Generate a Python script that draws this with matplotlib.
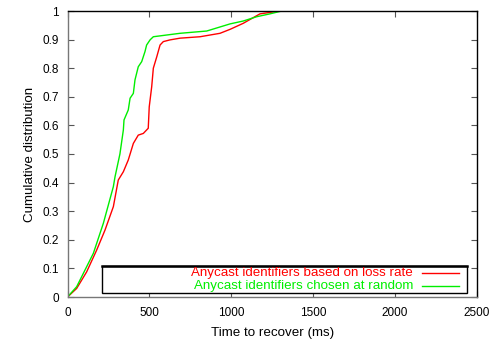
import matplotlib
matplotlib.use("Agg")
import matplotlib.pyplot as plt
from matplotlib.patches import Rectangle

plt.rcParams["font.family"] = ["Liberation Sans", "DejaVu Sans"]

# recovery time (ms) and cumulative fraction for each identifier scheme
loss_ms = [0, 56, 117, 178, 229, 280, 310, 341, 371, 402, 432, 463, 493, 499,
           514, 524, 545, 565, 585, 626, 687, 809, 931, 993, 1073, 1175, 1297, 2155]
loss_cdf = [0, 0.03, 0.088, 0.164, 0.234, 0.316, 0.409, 0.438, 0.479, 0.537,
            0.566, 0.572, 0.59, 0.665, 0.735, 0.80, 0.84, 0.881, 0.893, 0.899,
            0.905, 0.91, 0.922, 0.936, 0.957, 0.99, 1.0, 1.0]

rand_ms = [0, 56, 158, 219, 280, 290, 320, 341, 345, 371, 382, 402, 412, 432,
           453, 473, 483, 504, 524, 605, 687, 850, 993, 1073, 1155, 1236, 1308, 2438]
rand_cdf = [0, 0.036, 0.153, 0.258, 0.386, 0.42, 0.50, 0.584, 0.619, 0.654,
            0.695, 0.712, 0.759, 0.805, 0.823, 0.858, 0.881, 0.899, 0.91, 0.916,
            0.922, 0.93, 0.955, 0.965, 0.98, 0.99, 1.0, 1.0]

series_labels = ["Anycast identifiers based on loss rate",
                 "Anycast identifiers chosen at random"]
series_colors = ["#ff0000", "#00ee00"]

x_ticks = [0, 500, 1000, 1500, 2000, 2500]
y_ticks = [0, 0.1, 0.2, 0.3, 0.4, 0.5, 0.6, 0.7, 0.8, 0.9, 1]
y_ticklabels = ["0", "0.1", "0.2", "0.3", "0.4", "0.5", "0.6", "0.7", "0.8", "0.9", "1"]

fig = plt.figure(figsize=(4.98, 3.43), dpi=100)
ax = fig.add_axes([67.5 / 498, 1 - 297 / 343, 409.5 / 498, 286 / 343])

ax.plot(loss_ms, loss_cdf, color=series_colors[0], lw=1.0)
ax.plot(rand_ms, rand_cdf, color=series_colors[1], lw=1.0)

ax.set_xlim(0, 2500)
ax.set_ylim(0, 1)
ax.set_xticks(x_ticks)
ax.set_yticks(y_ticks)
ax.set_yticklabels(y_ticklabels)
ax.tick_params(direction="in", length=4, width=0.8, color="#555555",
               top=True, right=True, labelsize=8.5)
ax.tick_params(axis="x", pad=7)
ax.tick_params(axis="y", pad=6)
for side in ["left", "bottom"]:
    ax.spines[side].set_color("#777777")
for side in ["top", "right"]:
    ax.spines[side].set_color("black")
for sp in ax.spines.values():
    sp.set_linewidth(1.0)

ax.set_xlabel("Time to recover (ms)", fontsize=9.6, labelpad=6)
ax.set_ylabel("Cumulative distribution", fontsize=9.6, labelpad=5)

# key box in the lower right, text right-aligned next to line samples
tr = ax.transAxes
ax.add_patch(Rectangle((0.0835, 0.013), 0.892, 0.096, transform=tr,
                       facecolor="white", edgecolor="black", lw=1.0, zorder=5))
ax.plot([0.0835, 0.9755], [0.109, 0.109], transform=tr, color="black",
        lw=1.8, zorder=6)
for label, color, ty in zip(series_labels, series_colors, [0.085, 0.0385]):
    ax.text(0.844, ty, label, transform=tr, ha="right", va="center",
            color=color, fontsize=9.6, zorder=7)
    ax.plot([0.866, 0.956], [ty, ty], transform=tr, color=color, lw=1.0,
            zorder=7)

fig.savefig("out.png", dpi=100)
